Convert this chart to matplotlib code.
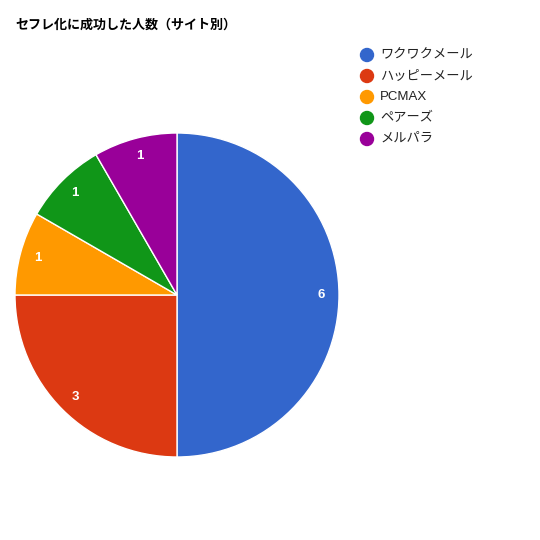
import matplotlib
matplotlib.use("Agg")
import matplotlib.pyplot as plt

plt.rcParams['font.family'] = ['Liberation Sans', 'Noto Sans CJK JP', 'DejaVu Sans']

sites = ['ワクワクメール', 'ハッピーメール', 'PCMAX', 'ペアーズ', 'メルパラ']
counts = [6, 3, 1, 1, 1]
colors = ['#3366cc', '#dc3912', '#ff9900', '#109618', '#990099']
title = 'セフレ化に成功した人数（サイト別）'

W = H = 540
fig = plt.figure(figsize=(W / 100, H / 100), dpi=100)

# pie: centre (177, 295), radius 162 px
cx, cy, r = 177, 295, 162
ax = fig.add_axes([(cx - r) / W, (H - cy - r) / H, 2 * r / W, 2 * r / H])
ax.pie(counts, colors=colors, startangle=90, counterclock=False,
       radius=1, wedgeprops=dict(edgecolor='white', linewidth=1),
       autopct=lambda p: '%d' % round(p * sum(counts) / 100),
       pctdistance=0.89,
       textprops=dict(color='white', fontsize=9.5, fontweight='bold'))
ax.set_xlim(-1, 1)
ax.set_ylim(-1, 1)
ax.set_aspect('equal')
ax.axis('off')

fig.text(15 / W, 1 - 25 / H, title, fontsize=9.4, fontweight='bold',
         va='center', ha='left', color='#000000')

# legend
for i, (name, col) in enumerate(zip(sites, colors)):
    y = 55 + i * 21
    fig.add_artist(plt.Circle((367 / W, 1 - y / H), 6.5 / W, color=col,
                              transform=fig.transFigure))
    fig.text(380 / W, 1 - y / H, name, fontsize=9.5, color='#222222',
             va='center', ha='left')

fig.savefig('out.png', dpi=100)
